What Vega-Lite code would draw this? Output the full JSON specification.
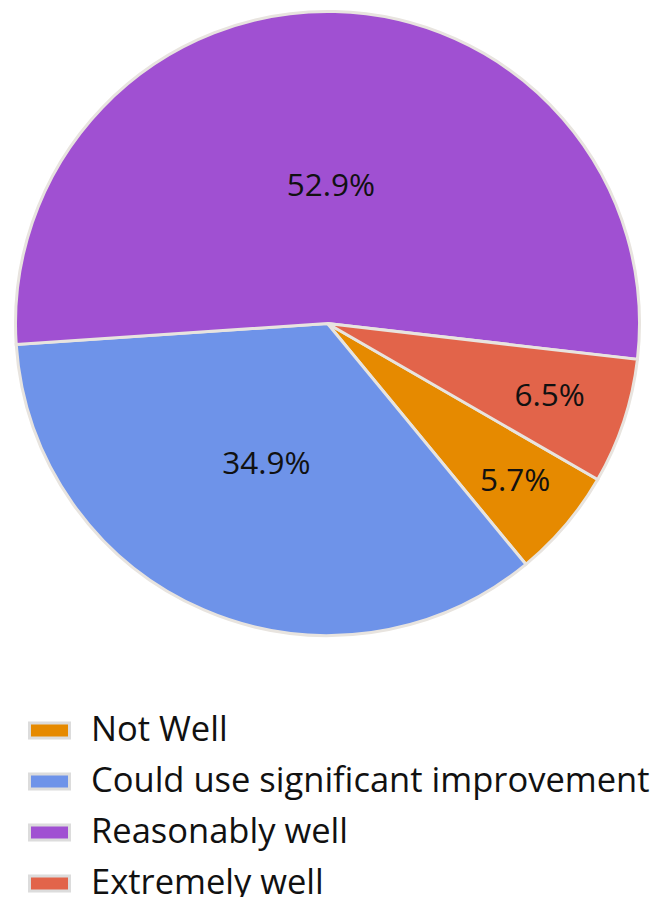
{
  "$schema": "https://vega.github.io/schema/vega-lite/v6.json",
  "width": 655,
  "height": 647,
  "padding": 0,
  "autosize": {"type": "pad"},
  "background": "white",
  "config": {"view": {"stroke": null}},
  "data": {
    "values": [
      {"category": "Not Well", "share": 0.057},
      {"category": "Could use significant improvement", "share": 0.349},
      {"category": "Reasonably well", "share": 0.529},
      {"category": "Extremely well", "share": 0.065}
    ]
  },
  "transform": [{"window": [{"op": "row_number", "as": "idx"}]}],
  "encoding": {
    "theta": {"field": "share", "type": "quantitative", "stack": true, "scale": {"range": [2.0944, 8.3776]}},
    "order": {"field": "idx", "type": "quantitative"}
  },
  "layer": [
    {
      "mark": {"type": "arc", "outerRadius": 312, "stroke": "#e8e4df", "strokeWidth": 3},
      "encoding": {
        "color": {
          "field": "category",
          "type": "nominal",
          "scale": {
            "domain": ["Not Well", "Could use significant improvement", "Reasonably well", "Extremely well"],
            "range": ["#e68a00", "#6e93e9", "#a050d2", "#e2644a"]
          },
          "legend": {
            "title": null,
            "orient": "none",
            "legendX": 28,
            "legendY": 709,
            "direction": "vertical",
            "padding": 0,
            "labelFont": "Open Sans",
            "labelFontSize": 34.5,
            "labelColor": "#111111",
            "labelLimit": 700,
            "symbolType": "M-1,-0.375H1V0.375H-1Z",
            "symbolSize": 1600,
            "symbolStrokeColor": "#dcdcdc",
            "symbolStrokeWidth": 3,
            "symbolOpacity": 1,
            "labelOffset": 20,
            "rowPadding": 13
          }
        }
      }
    },
    {
      "mark": {"type": "text", "font": "Open Sans", "fontSize": 31.5, "color": "#111111", "align": "center", "baseline": "middle"},
      "encoding": {
        "detail": {"field": "category", "type": "nominal"},
        "text": {"field": "share", "type": "quantitative", "format": ".1%"},
        "radius": {
          "field": "share",
          "type": "quantitative",
          "scale": {"type": "linear", "domain": [0.057, 0.065, 0.349, 0.529], "range": [246, 234, 154, 137], "zero": false, "nice": false}
        }
      }
    }
  ]
}
